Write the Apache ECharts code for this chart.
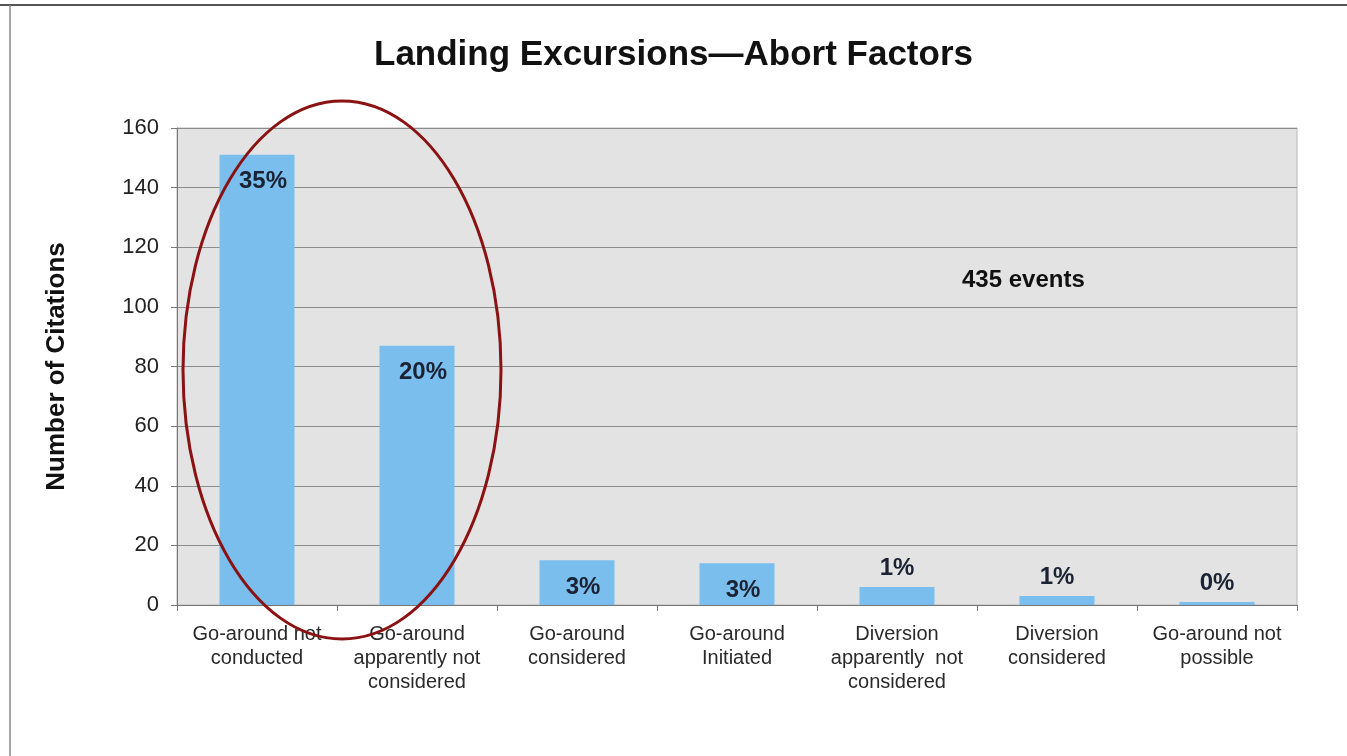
<!DOCTYPE html>
<html><head><meta charset="utf-8">
<script src="https://cdn.jsdelivr.net/npm/echarts@6/dist/echarts.min.js"></script>
<style>html,body{margin:0;padding:0;background:#fff}#c{width:1347px;height:756px}</style>
</head><body><div id="c"></div>
<script>
const categories = ['Go-around not\nconducted','Go-around\napparently not\nconsidered','Go-around\nconsidered','Go-around\nInitiated','Diversion\napparently  not\nconsidered','Diversion\nconsidered','Go-around not\npossible'];
const citations = [151, 87, 15, 14, 6, 3, 1];
const percentLabels = ['35%','20%','3%','3%','1%','1%','0%'];
const insideFlags = [true, true, true, true, false, false, false];
const yTicks = [0, 20, 40, 60, 80, 100, 120, 140, 160];

const chart = echarts.init(document.getElementById('c'));
const FONT = 'Liberation Sans, Arial, sans-serif';
const data = citations.map((v, i) => ({
  value: v,
  label: insideFlags[i]
    ? {position: 'insideTop', distance: 15, offset: [6, 0]}
    : {position: 'top', distance: 7}
}));
chart.setOption({
  animation: false,
  backgroundColor: '#fff',
  title: {text: 'Landing Excursions\u2014Abort Factors', left: 'center', top: 33,
    textStyle: {fontFamily: FONT, fontSize: 35, fontWeight: 'bold', color: '#111'}},
  grid: {left: 177, right: 50, top: 128, bottom: 151, show: true,
    backgroundColor: '#e3e3e3', borderColor: '#b8b8b8', borderWidth: 1},
  xAxis: {type: 'category', data: categories,
    axisLine: {lineStyle: {color: '#777', width: 1}},
    axisTick: {show: true, length: 6, lineStyle: {color: '#777'}},
    axisLabel: {fontFamily: FONT, fontSize: 20, color: '#2a2a2a', lineHeight: 24, margin: 17, interval: 0}},
  yAxis: {type: 'value', min: 0, max: 160, interval: 20,
    name: 'Number of Citations', nameLocation: 'middle', nameGap: 107,
    nameTextStyle: {fontFamily: FONT, fontSize: 26, fontWeight: 'bold', color: '#111'},
    axisLine: {show: true, lineStyle: {color: '#777'}},
    axisTick: {show: true, length: 6, lineStyle: {color: '#777'}},
    axisLabel: {fontFamily: FONT, fontSize: 22, color: '#222', margin: 18,
      formatter: v => yTicks.includes(v) ? String(v) : ''},
    splitLine: {lineStyle: {color: '#8c8c8c', width: 1}}},
  series: [{type: 'bar', data: data, barWidth: 75,
    itemStyle: {color: '#7abeed'},
    label: {show: true, fontFamily: FONT, fontSize: 24, fontWeight: 'bold', color: '#1a2233',
      formatter: p => percentLabels[p.dataIndex]}}]
});

const c = chart.convertToPixel({xAxisIndex: 0, yAxisIndex: 0}, [0, 0]);
const c2 = chart.convertToPixel({xAxisIndex: 0, yAxisIndex: 0}, [1, 0]);
const eventsPos = chart.convertToPixel({xAxisIndex: 0, yAxisIndex: 0}, [5, 109]);
chart.setOption({
  graphic: [
    {type: 'line', shape: {x1: 0, y1: 5, x2: 1347, y2: 5}, style: {stroke: '#555', lineWidth: 2}},
    {type: 'line', shape: {x1: 10, y1: 5, x2: 10, y2: 756}, style: {stroke: '#888', lineWidth: 1.5}},
    {type: 'ellipse', shape: {cx: (c[0] + c2[0]) / 2 + 5, cy: 370, rx: 159, ry: 269},
      style: {fill: 'none', stroke: '#8b1212', lineWidth: 3}, z: 100},
    {type: 'text', x: eventsPos[0] - 95, y: eventsPos[1], style: {text: '435 events',
      font: 'bold 24px ' + FONT, fill: '#111', textVerticalAlign: 'middle'}}
  ]
});
</script></body></html>
